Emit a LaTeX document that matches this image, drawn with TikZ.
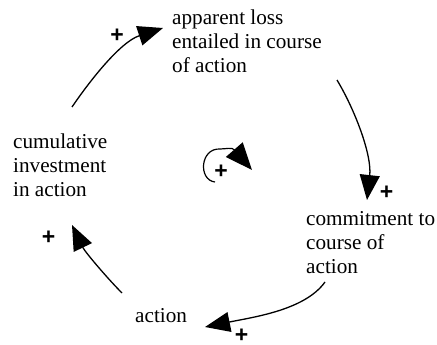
\documentclass[tikz,border=0pt]{standalone}
\usepackage{fontspec}
\setmainfont{Liberation Serif}
\newfontfamily\labelfont{Liberation Serif}
\newfontfamily\plusfont{Liberation Sans}
\usetikzlibrary{arrows.meta}

\tikzset{
  var/.style={anchor=base west, align=left, inner sep=0pt,
    font=\labelfont\fontsize{21.2}{24}\selectfont},
  link/.style={line width=1.3pt, -{Triangle[length=25pt, width=20pt]}},
  looplink/.style={line width=1.2pt, -{Triangle[length=27pt, width=22pt]}},
  pol/.style={inner sep=0pt, font=\plusfont\bfseries\fontsize{23}{23}\selectfont}
}

\begin{document}
\begin{tikzpicture}[x=1pt, y=-1pt]
  \useasboundingbox (0,0) rectangle (437,345);

  % variables (anchored at the baseline of their last line)
  \node[var] (loss)   at (172,73)  {apparent loss\\entailed in course\\of action};
  \node[var] (commit) at (306,273) {commitment to\\course of\\action};
  \node[var] (act)    at (135,322) {action};
  \node[var] (cum)    at (13,196)  {cumulative\\investment\\in action};

  % connector end points
  \coordinate (cumOut)    at (72,107);
  \coordinate (lossIn)    at (163,28);
  \coordinate (lossOut)   at (337,80);
  \coordinate (commitIn)  at (367,200);
  \coordinate (commitOut) at (325,282);
  \coordinate (actIn)     at (205,327);
  \coordinate (actOut)    at (122,293);
  \coordinate (cumIn)     at (72,225);

  % causal links
  \draw[link] (cumOut) .. controls (89,82) and (120,42) .. (lossIn);
  \draw[link] (lossOut) .. controls (355,110) and (372,155) .. (commitIn);
  \draw[link] (commitOut) .. controls (305,310) and (254,317) .. (actIn);
  \draw[link] (actOut) .. controls (108,279) and (85,252) .. (cumIn);

  % loop marker
  \coordinate (loopStart) at (215,182);
  \coordinate (loopTip)   at (252,170);
  \draw[looplink] (loopStart) .. controls (198,180) and (200,148) .. (220,149)
    .. controls (226,149) and (232,147) .. (loopTip);

  % polarities
  \node[pol] (p1) at (117,36)    {+};
  \node[pol] (p2) at (386.5,193) {+};
  \node[pol] (p3) at (241.5,335.5) {+};
  \node[pol] (p4) at (48.5,238)  {+};
  \node[pol] (p5) at (221,172)   {+};
\end{tikzpicture}
\end{document}
